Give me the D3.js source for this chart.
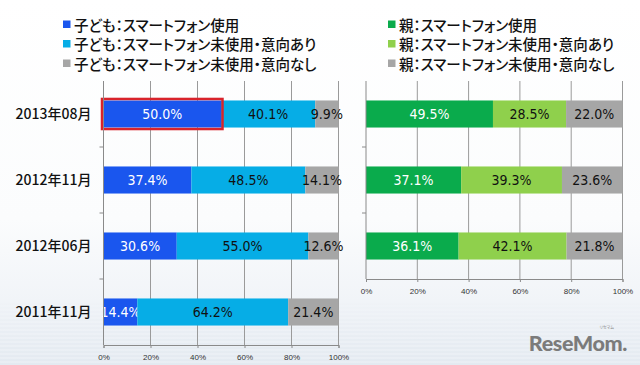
<!DOCTYPE html>
<html><head><meta charset="utf-8">
<script src="https://cdn.jsdelivr.net/npm/d3@7"></script>
<style>
html,body{margin:0;padding:0;background:#fff;}
svg{display:block;}
.cjk{font-feature-settings:"palt" 1;}
</style></head>
<body>
<svg id="c" width="640" height="365"></svg>
<script>
// ---------- data ----------
const childCategories = ["2013年08月", "2012年11月", "2012年06月", "2011年11月"];
const childUse       = [50.0, 37.4, 30.6, 14.4];
const childIntendYes = [40.1, 48.5, 55.0, 64.2];
const childIntendNo  = [9.9, 14.1, 12.6, 21.4];

const parentCategories = ["2013年08月", "2012年11月", "2012年06月"];
const parentUse       = [49.5, 37.1, 36.1];
const parentIntendYes = [28.5, 39.3, 42.1];
const parentIntendNo  = [22.0, 23.6, 21.8];

const childLegend  = ["子ども：スマートフォン使用", "子ども：スマートフォン未使用・意向あり", "子ども：スマートフォン未使用・意向なし"];
const parentLegend = ["親：スマートフォン使用", "親：スマートフォン未使用・意向あり", "親：スマートフォン未使用・意向なし"];
const tickValues = [0, 0.2, 0.4, 0.6, 0.8, 1.0];

// ---------- drawing ----------
const svg = d3.select("#c");
const defs = svg.append("defs");
const bg = defs.append("linearGradient").attr("id","bg").attr("x1",0).attr("y1",0).attr("x2",0).attr("y2",1);
bg.append("stop").attr("offset","0%").attr("stop-color","#ffffff");
bg.append("stop").attr("offset","60%").attr("stop-color","#fbfcfd");
bg.append("stop").attr("offset","100%").attr("stop-color","#e9eef4");
svg.append("rect").attr("width",640).attr("height",365).attr("fill","url(#bg)");
for (let y = 300; y < 365; y += 4) {
  svg.append("line").attr("x1",0).attr("x2",640).attr("y1",y).attr("y2",y)
    .attr("stroke","#dfe6ee").attr("stroke-width",1).attr("opacity",(y-300)/70);
}

const labelFont = "'DejaVu Sans Condensed','Liberation Sans Narrow','Noto Sans',sans-serif";
const cjkFont = "'Noto Sans CJK JP','Noto Sans',sans-serif";

function drawChart(opts) {
  const {x0, x1, yTop, bandH, cats, series, colors, textColors, showCats, highlight} = opts;
  const yBottom = yTop + bandH * cats.length;
  const x = d3.scaleLinear().domain([0, 1]).range([x0, x1]);
  const y = d3.scaleBand().domain(cats).range([yTop, yBottom]).paddingInner(0.59).paddingOuter(0.295);
  const g = svg.append("g");

  g.selectAll(".grid").data(tickValues.slice(1)).join("line")
    .attr("x1", d => x(d)).attr("x2", d => x(d))
    .attr("y1", yTop).attr("y2", yBottom)
    .attr("stroke", "#9a9a9a").attr("stroke-width", 1);

  const stackData = cats.map((c, i) => {
    const o = {cat: c};
    series.forEach((s, k) => o["s" + k] = s[i]);
    return o;
  });
  const keys = series.map((s, k) => "s" + k);
  const stacked = d3.stack().keys(keys).offset(d3.stackOffsetExpand)(stackData);
  stacked.forEach((layer, k) => {
    g.selectAll(".bar" + k).data(layer).join("rect")
      .attr("x", d => x(d[0])).attr("width", d => x(d[1]) - x(d[0]))
      .attr("y", d => y(d.data.cat)).attr("height", y.bandwidth())
      .attr("fill", colors[k]);
    g.selectAll(".lab" + k).data(layer).join("text")
      .attr("x", d => (x(d[0]) + x(d[1])) / 2)
      .attr("y", d => y(d.data.cat) + y.bandwidth() / 2 + 5)
      .attr("text-anchor", "middle")
      .attr("font-family", labelFont).attr("font-size", 14)
      .attr("fill", textColors[k])
      .text(d => d3.format(".1f")(d.data["s" + k]) + "%");
  });

  if (highlight) {
    const d = stacked[0][0];
    g.append("rect")
      .attr("x", x(d[0]) - 1.5).attr("y", y(d.data.cat) - 1.5)
      .attr("width", x(d[1]) - x(d[0]) + 3).attr("height", y.bandwidth() + 3)
      .attr("fill", "none").attr("stroke", "#d9232b").attr("stroke-width", 2.5);
  }

  g.append("line").attr("x1", x0).attr("x2", x0).attr("y1", yTop).attr("y2", yBottom)
    .attr("stroke", "#8a8a8a");
  d3.range(1, cats.length).forEach(i => {
    g.append("line").attr("x1", x0 - 4).attr("x2", x0)
      .attr("y1", yTop + bandH * i).attr("y2", yTop + bandH * i).attr("stroke", "#8a8a8a");
  });

  const ax = g.append("g").attr("transform", `translate(0,${yBottom})`)
    .call(d3.axisBottom(x).tickValues(tickValues).tickSize(3).tickFormat(d3.format(".0%")));
  ax.select(".domain").attr("stroke", "#8a8a8a");
  ax.selectAll(".tick line").attr("stroke", "#8a8a8a");
  ax.selectAll("text").attr("font-family", "'Liberation Sans','Noto Sans',sans-serif")
    .attr("font-size", 8).attr("fill", "#333").attr("dy", "1.1em");

  if (showCats) {
    g.selectAll(".cat").data(cats).join("text")
      .attr("x", x0 - 12).attr("y", d => y(d) + y.bandwidth() / 2 + 5)
      .attr("text-anchor", "end")
      .attr("font-family", cjkFont).attr("font-size", 14).attr("font-weight", 500)
      .attr("fill", "#111").text(d => d);
  }
}

const childColors = ["#1a56ee", "#06ade6", "#a6a6a6"];
const parentColors = ["#0aab4c", "#8fd04c", "#a6a6a6"];

drawChart({x0: 103.5, x1: 338.5, yTop: 81, bandH: 66, cats: childCategories,
  series: [childUse, childIntendYes, childIntendNo], colors: childColors,
  textColors: ["#ffffff", "#111", "#111"], showCats: true, highlight: true});
drawChart({x0: 366, x1: 622.5, yTop: 81, bandH: 66, cats: parentCategories,
  series: [parentUse, parentIntendYes, parentIntendNo], colors: parentColors,
  textColors: ["#ffffff", "#111", "#111"], showCats: false, highlight: false});

function legend(x, names, colors) {
  const g = svg.append("g");
  names.forEach((n, i) => {
    const yy = 24.5 + i * 19.5;
    g.append("rect").attr("x", x).attr("y", yy - 4).attr("width", 7.5).attr("height", 7.5).attr("fill", colors[i]);
    g.append("text").attr("class", "cjk").attr("x", x + 11).attr("y", yy + 6)
      .attr("font-family", cjkFont).attr("font-size", 14.5).attr("font-weight", 500)
      .attr("fill", "#111").text(n);
  });
}
legend(63, childLegend, childColors);
legend(388, parentLegend, parentColors);

svg.append("text").attr("x", 627).attr("y", 351).attr("text-anchor", "end")
  .attr("font-family", "'Lato','Liberation Sans',sans-serif").attr("font-weight", 900)
  .attr("font-size", 21.5).attr("fill", "#7b7b7b").attr("letter-spacing", -0.4).text("ReseMom.");
svg.append("text").attr("class", "cjk").attr("x", 614).attr("y", 329).attr("text-anchor", "end")
  .attr("font-family", cjkFont).attr("font-size", 4).attr("fill", "#888").text("リセマム");
</script>
</body></html>
